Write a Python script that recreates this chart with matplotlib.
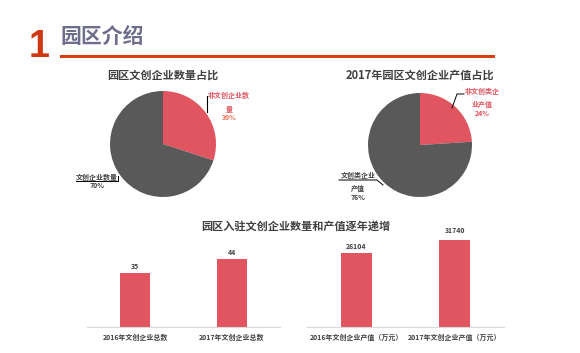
import matplotlib
matplotlib.use("Agg")
import matplotlib.pyplot as plt
from matplotlib.lines import Line2D

plt.rcParams['font.family'] = ['Noto Sans CJK SC', 'DejaVu Sans']

RED = '#E0555F'
GRAY = '#595959'
TXT = '#404040'

pie1_labels = ['非文创企业数\n量', '文创企业数量']
pie1_values = [30, 70]
pie2_labels = ['非文创类企\n业产值', '文创类企业\n产值']
pie2_values = [24, 76]

bar1_cats = ['2016年文创企业总数', '2017年文创企业总数']
bar1_vals = [35, 44]
bar2_cats = ['2016年文创企业产值（万元）', '2017年文创企业产值（万元）']
bar2_vals = [26104, 31740]

W, H = 580, 353
fig = plt.figure(figsize=(W / 100, H / 100), dpi=100)
fig.patch.set_facecolor('white')

def ax_px(x0, y0, w, h):
    return fig.add_axes([x0 / W, 1 - (y0 + h) / H, w / W, h / H])

def fx(x):
    return x / W

def fy(y):
    return 1 - y / H

# Header
fig.text(fx(29), fy(47), '1', color='#D0360F', fontsize=27, fontweight='bold',
         va='center', ha='left', family='Liberation Sans')
fig.text(fx(61), fy(36), '园区介绍', color='#6E6E8C', fontsize=15, fontweight='bold',
         va='center', ha='left')
fig.add_artist(Line2D([fx(61), fx(493)], [fy(56), fy(56)], color='#D9400F', lw=2.2))

# Pies
def draw_pie(cx, cy, r, values, title, tx):
    ax = ax_px(cx - r, cy - r, 2 * r, 2 * r)
    ax.pie(values, colors=[RED, GRAY], startangle=90, counterclock=False,
           radius=1, wedgeprops=dict(linewidth=0))
    ax.set_xlim(-1, 1)
    ax.set_ylim(-1, 1)
    ax.set_aspect('equal')
    ax.axis('off')
    fig.text(fx(tx), fy(75), title, color=TXT, fontsize=8, fontweight='bold',
             ha='center', va='center')

draw_pie(163, 144, 53, pie1_values, '园区文创企业数量占比', 163)
draw_pie(420, 145, 52, pie2_values, '2017年园区文创企业产值占比', 420)

# Pie 1 labels
fig.text(fx(229), fy(102), pie1_labels[0], color=RED, fontsize=5, fontweight='bold',
         ha='center', va='center', linespacing=2.0)
fig.text(fx(229), fy(118), f'{pie1_values[0]}%', color='#E8735A', fontsize=5,
         fontweight='bold', ha='center', va='center')
fig.add_artist(Line2D([fx(207), fx(207)], [fy(96), fy(112)], color='black', lw=0.8))
fig.text(fx(97), fy(177), pie1_labels[1], color=TXT, fontsize=5, fontweight='bold',
         ha='center', va='center')
fig.text(fx(97), fy(186), f'{pie1_values[1]}%', color=TXT, fontsize=5,
         fontweight='bold', ha='center', va='center')
fig.add_artist(Line2D([fx(76), fx(118), fx(118)], [fy(181), fy(181), fy(176)],
                      color='black', lw=0.7))

# Pie 2 labels
fig.text(fx(482), fy(98), pie2_labels[0], color=RED, fontsize=5, fontweight='bold',
         ha='center', va='center', linespacing=2.1)
fig.text(fx(482), fy(113), f'{pie2_values[0]}%', color=RED, fontsize=5,
         fontweight='bold', ha='center', va='center')
fig.add_artist(Line2D([fx(464), fx(457), fx(452)], [fy(94), fy(94), fy(108)],
                      color='black', lw=0.7))
fig.text(fx(358), fy(182), pie2_labels[1], color=TXT, fontsize=5, fontweight='bold',
         ha='center', va='center', linespacing=2.1)
fig.text(fx(358), fy(197), f'{pie2_values[1]}%', color=TXT, fontsize=5,
         fontweight='bold', ha='center', va='center')
fig.add_artist(Line2D([fx(339), fx(377), fx(383)], [fy(180), fy(180), fy(185)],
                      color='black', lw=0.7))

# Bars section title
fig.text(fx(296), fy(226), '园区入驻文创企业数量和产值逐年递增', color=TXT, fontsize=8,
         fontweight='bold', ha='center', va='center')

def draw_bars(x0, x1, cats, vals, top_px, top_val, fmt):
    base = 327
    h = base - 240
    ax = ax_px(x0, 240, x1 - x0, h)
    ymax = top_val * h / (base - top_px)
    xs = range(len(cats))
    ax.bar(xs, vals, width=0.31, color=RED)
    ax.set_xlim(-0.5, len(cats) - 0.5)
    ax.set_ylim(0, ymax)
    for s in ['top', 'right', 'left']:
        ax.spines[s].set_visible(False)
    ax.spines['bottom'].set_color('#D9D9D9')
    ax.set_yticks([])
    ax.set_xticks(list(xs))
    ax.set_xticklabels(cats, fontsize=5, fontweight='bold', color=TXT)
    ax.tick_params(axis='x', length=0, pad=5)
    for x, v in zip(xs, vals):
        ax.text(x, v + ymax * 0.04, fmt(v), ha='center', va='bottom', fontsize=5,
                fontweight='bold', color=TXT)
    ax.patch.set_alpha(0)

draw_bars(87, 280, bar1_cats, bar1_vals, 273, bar1_vals[0], str)
draw_bars(307, 504, bar2_cats, bar2_vals, 253, bar2_vals[0], str)

fig.savefig('out.png', dpi=100, facecolor='white')
